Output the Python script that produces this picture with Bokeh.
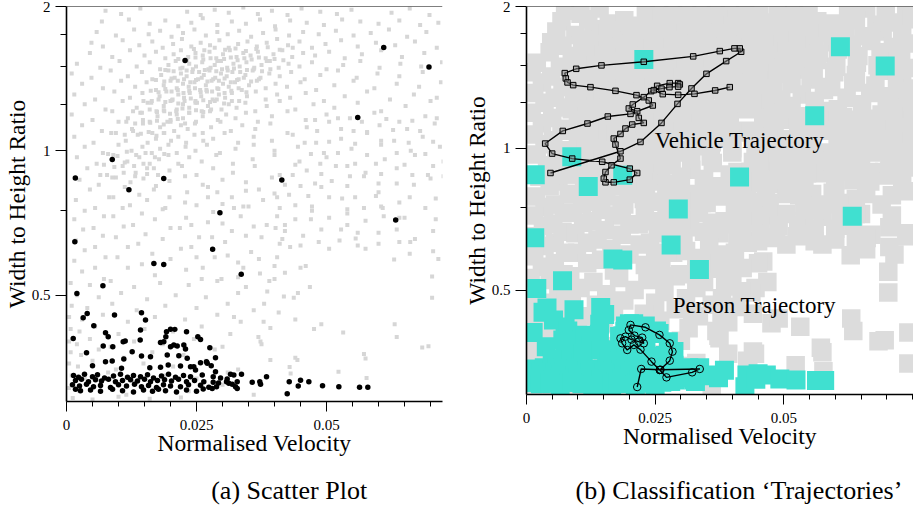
from bokeh.plotting import figure
from bokeh.models import FixedTicker, CustomJSTickFormatter, Span, Label, Range1d
from bokeh.layouts import row, column
from bokeh.embed import file_html
from bokeh.resources import INLINE

FONT = "Liberation Serif"

# ---------------- data (normalised velocity, width/height ratio) ----------------
# vehicle samples (grey)
veh_upper = [
    (0.0075,1.96),(0.0105,1.93),(0.0142,1.98),(0.0232,1.95),(0.0258,1.92),(0.0285,1.97),(0.0312,1.94),(0.0340,1.99),(0.0368,1.93),(0.0395,1.96),(0.0425,1.92),(0.0452,1.98),(0.0488,1.95),(0.0520,1.93),(0.0548,1.97),(0.0625,1.94),(0.0660,1.98),(0.0698,1.92),(0.0738,1.96),
    (0.0068,1.86),(0.0120,1.88),(0.0160,1.84),(0.0190,1.87),(0.0215,1.82),(0.0240,1.85),(0.0262,1.89),(0.0290,1.83),(0.0318,1.86),(0.0345,1.84),(0.0372,1.88),(0.0401,1.82),(0.0430,1.87),(0.0462,1.85),(0.0495,1.83),(0.0530,1.88),(0.0565,1.86),(0.0600,1.84),(0.0640,1.87),(0.0680,1.83),(0.0715,1.85),(0.0748,1.88),
    (0.0058,1.77),(0.0095,1.74),(0.0130,1.79),(0.0158,1.75),(0.0180,1.78),(0.0202,1.73),(0.0224,1.76),(0.0246,1.79),(0.0268,1.74),(0.0290,1.77),(0.0310,1.75),(0.0332,1.78),(0.0355,1.73),(0.0378,1.76),(0.0402,1.79),(0.0428,1.74),(0.0455,1.77),(0.0485,1.75),(0.0518,1.78),(0.0552,1.74),(0.0585,1.76),(0.0620,1.79),(0.0655,1.73),(0.0692,1.77),(0.0730,1.75),
    (0.0048,1.68),(0.0070,1.65),(0.0108,1.70),(0.0140,1.66),(0.0165,1.69),(0.0185,1.64),(0.0205,1.67),(0.0222,1.71),(0.0240,1.65),(0.0258,1.68),(0.0276,1.66),(0.0294,1.70),(0.0312,1.64),(0.0330,1.67),(0.0348,1.69),(0.0366,1.65),(0.0385,1.68),(0.0405,1.71),(0.0426,1.66),(0.0448,1.69),(0.0472,1.64),(0.0498,1.67),(0.0528,1.70),(0.0560,1.65),(0.0595,1.68),(0.0632,1.66),(0.0670,1.69),(0.0712,1.64),(0.0745,1.67),
    (0.0045,1.60),(0.0088,1.57),(0.0122,1.62),(0.0150,1.58),(0.0172,1.61),(0.0190,1.56),(0.0206,1.59),(0.0220,1.62),(0.0234,1.57),(0.0248,1.60),(0.0262,1.58),(0.0275,1.61),(0.0288,1.56),(0.0301,1.59),(0.0314,1.62),(0.0327,1.57),(0.0340,1.60),(0.0354,1.58),(0.0368,1.61),(0.0383,1.56),(0.0398,1.59),(0.0415,1.62),(0.0434,1.57),(0.0455,1.60),(0.0478,1.58),(0.0505,1.61),(0.0535,1.56),(0.0568,1.59),(0.0605,1.62),(0.0645,1.57),(0.0688,1.60),(0.0728,1.58),
    (0.0245,1.63),(0.0265,1.62),(0.0285,1.64),(0.0305,1.625),(0.0325,1.635),(0.0345,1.615),(0.0365,1.63),(0.0387,1.645),(0.0410,1.625),(0.0435,1.64),
]
veh_core = [
    (0.0020,1.52),(0.0065,1.49),(0.0102,1.54),(0.0135,1.50),(0.0160,1.53),(0.0180,1.48),(0.0196,1.51),(0.0210,1.54),(0.0223,1.49),(0.0236,1.52),(0.0249,1.50),(0.0261,1.53),(0.0273,1.48),(0.0285,1.51),(0.0297,1.54),(0.0309,1.49),(0.0321,1.52),(0.0333,1.50),(0.0346,1.53),(0.0360,1.48),(0.0375,1.51),(0.0391,1.54),(0.0408,1.49),(0.0427,1.52),(0.0448,1.50),(0.0472,1.53),(0.0500,1.48),(0.0532,1.51),(0.0565,1.54),(0.0602,1.49),(0.0642,1.52),(0.0682,1.50),(0.0722,1.53),(0.0752,1.48),
    (0.0010,1.45),(0.0048,1.42),(0.0085,1.47),(0.0118,1.43),(0.0145,1.46),(0.0165,1.41),(0.0182,1.44),(0.0196,1.47),(0.0208,1.42),(0.0220,1.45),(0.0231,1.43),(0.0242,1.46),(0.0253,1.41),(0.0264,1.44),(0.0275,1.47),(0.0286,1.42),(0.0297,1.45),(0.0308,1.43),(0.0319,1.46),(0.0331,1.41),(0.0344,1.44),(0.0358,1.47),(0.0373,1.42),(0.0390,1.45),(0.0410,1.43),(0.0432,1.46),(0.0458,1.41),(0.0488,1.44),(0.0522,1.47),(0.0558,1.42),(0.0598,1.45),(0.0640,1.43),(0.0685,1.46),(0.0730,1.41),
    (0.0030,1.38),(0.0070,1.35),(0.0105,1.40),(0.0132,1.36),(0.0154,1.39),(0.0172,1.34),(0.0187,1.37),(0.0200,1.40),(0.0212,1.35),(0.0224,1.38),(0.0235,1.36),(0.0246,1.39),(0.0257,1.34),(0.0268,1.37),(0.0279,1.40),(0.0290,1.35),(0.0301,1.38),(0.0312,1.36),(0.0324,1.39),(0.0337,1.34),(0.0351,1.37),(0.0366,1.40),(0.0383,1.35),(0.0402,1.38),(0.0424,1.36),(0.0450,1.39),(0.0480,1.34),(0.0515,1.37),(0.0552,1.40),(0.0592,1.35),(0.0635,1.38),(0.0678,1.36),(0.0720,1.39),(0.0750,1.34),
    (0.0015,1.31),(0.0055,1.28),(0.0092,1.33),(0.0122,1.29),(0.0146,1.32),(0.0164,1.27),(0.0179,1.30),(0.0192,1.33),(0.0204,1.28),(0.0215,1.31),(0.0226,1.29),(0.0237,1.32),(0.0248,1.27),(0.0259,1.30),(0.0270,1.33),(0.0281,1.28),(0.0293,1.31),(0.0305,1.29),(0.0318,1.32),(0.0332,1.27),(0.0347,1.30),(0.0364,1.33),(0.0383,1.28),(0.0405,1.31),(0.0430,1.29),(0.0460,1.32),(0.0495,1.27),(0.0535,1.30),(0.0578,1.33),(0.0622,1.28),(0.0668,1.31),(0.0712,1.29),(0.0745,1.32),
    (0.0035,1.25),(0.0075,1.22),(0.0108,1.27),(0.0135,1.23),(0.0156,1.26),(0.0173,1.21),(0.0187,1.24),(0.0200,1.27),(0.0212,1.22),(0.0224,1.25),(0.0236,1.23),(0.0248,1.26),(0.0260,1.21),(0.0272,1.24),(0.0285,1.27),(0.0298,1.22),(0.0312,1.25),(0.0327,1.23),(0.0344,1.26),(0.0363,1.21),(0.0385,1.24),(0.0410,1.27),(0.0440,1.22),(0.0475,1.25),(0.0515,1.23),(0.0560,1.26),(0.0605,1.21),(0.0652,1.24),(0.0700,1.27),(0.0740,1.22),
    (0.0010,1.19),(0.0050,1.16),(0.0088,1.21),(0.0118,1.17),(0.0142,1.20),(0.0160,1.15),(0.0175,1.18),(0.0188,1.21),(0.0200,1.16),(0.0212,1.19),(0.0224,1.17),(0.0236,1.20),(0.0249,1.15),(0.0262,1.18),(0.0276,1.21),(0.0291,1.16),(0.0307,1.19),(0.0325,1.17),(0.0345,1.20),(0.0368,1.15),(0.0395,1.18),(0.0425,1.21),(0.0460,1.16),(0.0500,1.19),(0.0545,1.17),(0.0592,1.20),(0.0640,1.15),(0.0690,1.18),(0.0735,1.21),
    (0.0215,1.555),(0.0232,1.545),(0.0248,1.565),(0.0263,1.55),(0.0277,1.56),(0.0290,1.54),(0.0303,1.555),(0.0316,1.565),(0.0329,1.545),(0.0342,1.56),(0.0356,1.55),(0.0370,1.565),(0.0385,1.54),(0.0400,1.555),(0.0417,1.545),
    (0.0190,1.475),(0.0206,1.465),(0.0219,1.485),(0.0231,1.47),(0.0243,1.48),(0.0255,1.46),(0.0266,1.475),(0.0277,1.49),(0.0288,1.465),(0.0299,1.48),(0.0310,1.47),(0.0322,1.485),(0.0334,1.46),(0.0347,1.475),(0.0361,1.49),(0.0376,1.465),(0.0392,1.48),
    (0.0172,1.405),(0.0188,1.395),(0.0202,1.415),(0.0214,1.40),(0.0226,1.41),(0.0238,1.39),(0.0249,1.405),(0.0260,1.42),(0.0271,1.395),(0.0282,1.41),(0.0293,1.40),(0.0304,1.415),(0.0316,1.39),(0.0328,1.405),(0.0341,1.42),(0.0355,1.395),(0.0370,1.41),
    (0.0162,1.335),(0.0177,1.325),(0.0190,1.345),(0.0202,1.33),(0.0214,1.34),(0.0225,1.32),(0.0236,1.335),(0.0247,1.35),(0.0258,1.325),(0.0269,1.34),(0.0280,1.33),(0.0292,1.345),(0.0304,1.32),(0.0317,1.335),(0.0331,1.35),(0.0346,1.325),
    (0.0148,1.27),(0.0163,1.26),(0.0177,1.28),(0.0190,1.265),(0.0203,1.275),(0.0215,1.255),(0.0227,1.27),(0.0239,1.285),(0.0251,1.26),(0.0263,1.275),(0.0276,1.265),(0.0289,1.28),(0.0303,1.255),(0.0318,1.27),
    (0.0128,1.21),(0.0145,1.20),(0.0160,1.22),(0.0174,1.205),(0.0187,1.215),(0.0199,1.195),(0.0211,1.21),(0.0223,1.225),(0.0236,1.20),(0.0249,1.215),(0.0263,1.205),(0.0278,1.22),
]
veh_lower = [
    (0.0030,1.13),(0.0068,1.10),(0.0100,1.15),(0.0126,1.11),(0.0147,1.14),(0.0165,1.09),(0.0180,1.12),(0.0194,1.15),(0.0207,1.10),(0.0220,1.13),(0.0233,1.11),(0.0247,1.14),(0.0262,1.09),(0.0278,1.12),(0.0296,1.15),(0.0316,1.10),(0.0338,1.13),(0.0363,1.11),(0.0392,1.14),(0.0425,1.09),(0.0462,1.12),(0.0505,1.15),(0.0552,1.10),(0.0602,1.13),(0.0655,1.11),(0.0708,1.14),(0.0748,1.09),
    (0.0015,1.07),(0.0052,1.04),(0.0086,1.09),(0.0114,1.05),(0.0137,1.08),(0.0156,1.04),(0.0172,1.06),(0.0187,1.09),(0.0201,1.05),(0.0215,1.07),(0.0230,1.04),(0.0246,1.08),(0.0263,1.05),(0.0282,1.06),(0.0304,1.09),(0.0330,1.04),(0.0360,1.07),(0.0395,1.05),(0.0435,1.08),(0.0480,1.04),(0.0528,1.06),(0.0578,1.09),(0.0630,1.05),(0.0685,1.07),(0.0730,1.04),
    (0.0035,1.02),(0.0070,0.99),(0.0100,1.03),(0.0125,1.00),(0.0146,1.02),(0.0164,0.99),(0.0180,1.01),(0.0196,1.03),(0.0212,0.99),(0.0229,1.02),(0.0248,1.00),(0.0270,1.03),(0.0295,0.99),(0.0325,1.01),(0.0360,1.03),(0.0400,1.00),(0.0445,1.02),(0.0495,0.99),(0.0548,1.01),(0.0605,1.03),(0.0662,1.00),(0.0718,1.02),
    (0.0020,0.97),(0.0058,0.94),(0.0090,0.98),(0.0117,0.95),(0.0140,0.97),(0.0160,0.94),(0.0178,0.96),(0.0196,0.98),(0.0215,0.94),(0.0236,0.97),(0.0260,0.95),(0.0288,0.98),(0.0320,0.94),(0.0358,0.96),(0.0400,0.98),(0.0448,0.95),(0.0500,0.97),(0.0555,0.94),(0.0612,0.96),(0.0670,0.98),(0.0725,0.95),
    (0.0040,0.92),(0.0078,0.89),(0.0108,0.93),(0.0133,0.90),(0.0155,0.92),(0.0176,0.89),(0.0198,0.91),(0.0222,0.93),(0.0250,0.89),(0.0282,0.92),(0.0320,0.90),(0.0362,0.93),(0.0410,0.89),(0.0462,0.91),(0.0518,0.93),(0.0575,0.90),(0.0635,0.92),(0.0695,0.89),(0.0745,0.91),
    (0.0025,0.87),(0.0062,0.85),(0.0095,0.88),(0.0123,0.86),(0.0148,0.875),(0.0172,0.845),(0.0198,0.865),(0.0228,0.885),(0.0262,0.85),(0.0300,0.87),(0.0345,0.86),(0.0395,0.88),(0.0450,0.845),(0.0510,0.865),(0.0572,0.885),(0.0635,0.855),(0.0700,0.875),
    (0.0045,0.83),(0.0082,0.80),(0.0112,0.84),(0.0140,0.81),(0.0168,0.83),(0.0198,0.80),(0.0232,0.82),(0.0272,0.84),(0.0318,0.80),(0.0370,0.83),(0.0428,0.81),(0.0490,0.84),(0.0555,0.80),(0.0600,0.82),(0.0740,0.81),
    (0.0018,0.79),(0.0055,0.76),(0.0090,0.80),(0.0122,0.77),(0.0155,0.79),(0.0190,0.76),(0.0228,0.78),(0.0272,0.80),(0.0322,0.76),(0.0378,0.79),(0.0440,0.77),(0.0505,0.80),(0.0572,0.76),(0.0640,0.78),
    (0.0035,0.75),(0.0072,0.73),(0.0108,0.76),(0.0145,0.74),(0.0185,0.755),(0.0230,0.725),(0.0282,0.745),(0.0340,0.765),(0.0405,0.73),(0.0472,0.75),(0.0540,0.74),(0.0608,0.76),(0.0650,0.725),
    (0.0015,0.72),(0.0052,0.69),(0.0090,0.73),(0.0128,0.70),(0.0170,0.72),(0.0218,0.69),(0.0272,0.71),(0.0335,0.73),(0.0402,0.69),(0.0470,0.72),(0.0540,0.70),(0.0610,0.73),(0.0670,0.655),
    (0.0032,0.685),(0.0070,0.665),(0.0110,0.695),(0.0152,0.67),(0.0200,0.69),(0.0255,0.66),(0.0318,0.68),(0.0385,0.70),(0.0455,0.665),(0.0528,0.685),(0.0600,0.675),(0.0740,0.66),
    (0.0018,0.65),(0.0055,0.63),(0.0095,0.66),(0.0138,0.64),(0.0185,0.655),(0.0240,0.63),(0.0305,0.645),(0.0375,0.66),(0.0450,0.635),(0.0525,0.65),(0.0600,0.64),
    (0.0035,0.62),(0.0075,0.60),(0.0118,0.63),(0.0165,0.61),(0.0220,0.625),(0.0285,0.60),(0.0355,0.615),(0.0430,0.63),(0.0505,0.625),(0.0575,0.625),(0.0660,0.61),
    (0.0015,0.59),(0.0055,0.57),(0.0098,0.60),(0.0145,0.58),(0.0200,0.595),(0.0262,0.57),(0.0330,0.585),(0.0405,0.60),(0.0460,0.575),(0.0715,0.595),
    (0.0030,0.56),(0.0072,0.54),(0.0118,0.57),(0.0170,0.55),(0.0230,0.565),(0.0298,0.54),(0.0372,0.555),(0.0450,0.57),
    (0.0115,1.15),(0.0132,1.14),(0.0147,1.16),(0.0161,1.145),(0.0174,1.155),(0.0187,1.135),(0.0200,1.15),(0.0214,1.165),(0.0228,1.14),
    (0.0095,1.09),(0.0112,1.08),(0.0128,1.10),(0.0143,1.085),(0.0158,1.095),(0.0173,1.075),(0.0188,1.09),
    (0.0080,0.985),(0.0098,0.975),(0.0116,0.995),(0.0134,0.98),(0.0152,0.99),(0.0170,0.97),(0.0188,0.985),
    (0.0072,0.935),(0.0092,0.925),(0.0112,0.945),(0.0130,0.93),(0.0148,0.94),(0.0168,0.92),
    (0.0065,0.89),(0.0088,0.88),(0.0110,0.90),(0.0132,0.885),(0.0155,0.895),
]
veh_right_fill = [
    (0.0478,1.16),(0.0522,1.17),(0.0568,1.15),(0.0615,1.165),(0.0665,1.155),(0.0712,1.17),(0.0750,1.15),
    (0.0482,1.10),(0.0528,1.11),(0.0578,1.095),(0.0628,1.105),(0.0680,1.10),(0.0728,1.11),
    (0.0458,1.04),(0.0505,1.045),(0.0555,1.035),(0.0605,1.05),(0.0658,1.04),(0.0705,1.045),(0.0748,1.035),
    (0.0470,0.985),(0.0522,0.99),(0.0578,0.98),(0.0635,0.99),(0.0690,0.985),(0.0745,0.98),
    (0.0440,0.935),(0.0488,0.94),(0.0540,0.93),(0.0595,0.94),(0.0650,0.935),(0.0705,0.93),
    (0.0435,0.89),(0.0490,0.895),(0.0545,0.885),(0.0605,0.895),(0.0665,0.89),(0.0725,0.885),
    (0.0420,0.85),(0.0478,0.855),(0.0540,0.845),(0.0600,0.855),(0.0668,0.85),(0.0730,0.845),
    (0.0405,0.80),(0.0465,0.805),(0.0530,0.795),(0.0595,0.805),(0.0660,0.80),(0.0710,0.795),
    (0.0410,0.76),(0.0472,0.765),(0.0540,0.755),(0.0605,0.765),(0.0690,0.76),
    (0.0440,0.72),(0.0505,0.725),(0.0575,0.715),(0.0640,0.725),(0.0710,0.72),
    (0.0420,0.68),(0.0490,0.685),(0.0560,0.675),(0.0635,0.685),(0.0705,0.68),
    (0.0410,0.64),(0.0485,0.645),(0.0560,0.635),(0.0640,0.645),
    (0.0290,0.82),(0.0345,0.825),(0.0400,0.815),
    (0.0250,0.77),(0.0300,0.775),(0.0350,0.765),
    (0.0240,0.70),(0.0300,0.705),(0.0360,0.695),(0.0420,0.70),
    (0.0280,0.66),(0.0345,0.665),(0.0415,0.655),
    (0.0250,0.60),(0.0310,0.605),(0.0370,0.595),
    (0.0340,0.57),(0.0400,0.575),
    (0.0260,0.54),(0.0330,0.545),(0.0390,0.535),
]
veh_bottom_left = [
    (0.0008,0.53),(0.0045,0.525),(0.0085,0.535),(0.0130,0.52),(0.0180,0.53),(0.0235,0.525),(0.0290,0.535),(0.0345,0.52),
    (0.0020,0.50),(0.0062,0.495),(0.0105,0.505),(0.0155,0.49),(0.0210,0.50),(0.0268,0.495),(0.0330,0.505),
    (0.0010,0.475),(0.0040,0.47),(0.0088,0.48),(0.0135,0.465),(0.0190,0.475),(0.0250,0.47),(0.0310,0.48),(0.0360,0.465),
    (0.0005,0.45),(0.0030,0.445),(0.0070,0.455),(0.0118,0.44),(0.0170,0.45),(0.0228,0.445),(0.0290,0.455),(0.0335,0.44),
    (0.0008,0.425),(0.0025,0.42),(0.0055,0.43),(0.0100,0.415),(0.0150,0.425),(0.0205,0.42),(0.0260,0.43),(0.0315,0.415),
    (0.0005,0.40),(0.0020,0.395),(0.0045,0.405),(0.0085,0.39),(0.0130,0.40),(0.0185,0.395),(0.0245,0.405),(0.0300,0.39),
    (0.0008,0.38),(0.0028,0.375),(0.0062,0.385),(0.0110,0.37),(0.0165,0.38),(0.0225,0.375),(0.0285,0.385),
    (0.0005,0.36),(0.0022,0.355),(0.0050,0.365),(0.0095,0.35),(0.0148,0.36),(0.0205,0.355),(0.0268,0.365),(0.0330,0.35),
    (0.0010,0.34),(0.0035,0.335),(0.0080,0.345),(0.0130,0.33),(0.0190,0.34),(0.0250,0.335),(0.0310,0.345),
    (0.0005,0.32),(0.0025,0.315),(0.0065,0.325),(0.0115,0.31),(0.0175,0.32),(0.0235,0.315),(0.0300,0.325),(0.0360,0.31),
    (0.0012,0.305),(0.0050,0.303),(0.0100,0.307),(0.0160,0.304),(0.0220,0.306),
]
veh_bottom_right = [
    (0.0630,0.593),(0.0703,0.547),(0.0703,0.494),(0.0742,0.406),(0.0742,0.349),(0.0696,0.391),(0.0684,0.389),(0.0631,0.435),(0.0635,0.409),(0.0575,0.369),(0.0577,0.336),(0.0523,0.346),(0.0532,0.418),(0.0476,0.425),(0.0369,0.409),(0.0429,0.354),(0.0420,0.557),(0.0468,0.520),(0.0705,0.617),(0.0738,0.650),(0.0661,0.645),(0.0556,0.656),(0.0400,0.540),(0.0445,0.505),(0.0440,0.445),(0.0490,0.435),(0.0375,0.395),(0.0440,0.370),(0.0380,0.480),(0.0408,0.460),
    (0.0322,0.450),(0.0379,0.440),(0.0392,0.427),(0.0373,0.400),(0.0392,0.366),(0.0431,0.343),(0.0444,0.366),(0.0572,0.377),(0.0437,0.494),(0.0418,0.497),(0.0386,0.509),
]

# person samples (black / turquoise)
per_upper = [
    (0.0228,1.544),(0.0610,1.643),(0.0697,1.495),(0.0560,1.173),(0.0088,0.959),(0.0017,0.878),(0.0187,0.876),(0.0414,0.869),(0.0120,0.829),(0.0295,0.743),(0.0633,0.717),(0.0016,0.646),(0.0281,0.623),(0.0168,0.582),(0.0187,0.579),(0.0336,0.553),(0.0070,0.523),(0.0020,0.504),
]
per_mid = [
    (0.00321,0.4484),(0.00398,0.4580),(0.00525,0.4316),(0.00923,0.4543),(0.01442,0.4593),(0.01519,0.4435),(0.00129,0.4062),(0.00750,0.4173),(0.00802,0.4094),(0.00706,0.3915),(0.00890,0.3902),(0.01090,0.3997),(0.01129,0.4010),(0.01423,0.4227),(0.01417,0.4029),(0.01263,0.3810),(0.00385,0.3791),(0.00750,0.3631),(0.00879,0.3643),(0.01058,0.3518),(0.01102,0.3678),(0.01442,0.3732),(0.01615,0.3719),(0.01602,0.3528),(0.01808,0.3985),(0.01871,0.3997),(0.01910,0.4094),(0.02000,0.4242),(0.02083,0.4242),(0.02000,0.3902),(0.02063,0.3934),(0.02129,0.3915),(0.02308,0.4193),(0.02256,0.3934),(0.02288,0.3859),(0.01937,0.3750),(0.01956,0.3574),(0.02160,0.3737),(0.02321,0.3691),(0.01808,0.3535),(0.02192,0.3557),(0.02525,0.4094),(0.02577,0.4043),(0.02756,0.3883),(0.02577,0.3614),(0.02706,0.3603),(0.02448,0.3545),(0.00500,0.3562),(0.02865,0.3701),(0.02385,0.3545),(0.02481,0.3489),(0.02692,0.3631),(0.02783,0.3562),(0.02865,0.3461),(0.01923,0.4193),
]
per_band = [
    (0.00135,0.340),(0.00231,0.337),(0.00346,0.342),(0.00500,0.338),(0.00596,0.341),(0.00731,0.336),(0.00904,0.339),(0.01038,0.342),(0.01173,0.337),(0.01288,0.340),(0.01423,0.338),(0.01558,0.341),(0.01673,0.336),(0.01827,0.339),(0.01962,0.342),(0.02096,0.337),(0.02250,0.340),(0.02385,0.338),(0.02610,0.3407),(0.02821,0.3379),
    (0.00173,0.332),(0.00288,0.334),(0.00423,0.330),(0.00558,0.333),(0.00673,0.331),(0.00808,0.334),(0.00942,0.330),(0.01077,0.332),(0.01231,0.333),(0.01365,0.331),(0.01500,0.334),(0.01615,0.330),(0.01750,0.332),(0.01885,0.333),(0.02019,0.331),(0.02154,0.334),(0.02308,0.330),(0.02462,0.332),(0.02640,0.3299),(0.02821,0.3289),
    (0.00115,0.325),(0.00250,0.323),(0.00385,0.326),(0.00519,0.322),(0.00654,0.324),(0.00846,0.321),(0.01000,0.325),(0.01154,0.323),(0.01308,0.326),(0.01442,0.322),(0.01577,0.324),(0.01731,0.321),(0.01865,0.325),(0.02000,0.323),(0.02192,0.322),(0.02346,0.325),(0.02577,0.3243),(0.02737,0.3211),(0.02885,0.3220),
    (0.00173,0.318),(0.00269,0.316),(0.00462,0.317),(0.00654,0.315),(0.00885,0.318),(0.01077,0.316),(0.01288,0.314),(0.01481,0.317),(0.01654,0.315),(0.01769,0.318),(0.01904,0.316),(0.02115,0.314),(0.02308,0.317),(0.02500,0.315),(0.02629,0.3185),(0.02802,0.3195),
]
per_band_right = [
    (0.03154,0.3418),(0.03217,0.3407),(0.03090,0.3342),(0.03121,0.3273),(0.03187,0.3258),(0.03077,0.3299),(0.03283,0.3299),(0.03365,0.3418),(0.03250,0.3220),(0.03283,0.3195),(0.03571,0.3289),(0.03717,0.3299),(0.03731,0.3258),(0.03846,0.3379),(0.04244,0.3114),(0.04283,0.3299),(0.04456,0.3231),(0.04500,0.3321),(0.04660,0.3299),(0.04923,0.3236),(0.05237,0.3220),(0.05635,0.3211),(0.05794,0.3211),(0.02962,0.3358),(0.02923,0.3278),
]

# example trajectories
veh_traj_x = [0.00466,0.01826,0.02215,0.02623,0.02934,0.03206,0.03497,0.03880,0.04171,0.04144,0.04041,0.03756,0.03239,0.02279,0.01457,0.00966,0.00744,0.00764,0.00797,0.00907,0.01243,0.01729,0.02137,0.02376,0.02454,0.02021,0.01580,0.01185,0.00705,0.00363,0.00499,0.00888,0.01471,0.02007,0.02151,0.02007,0.01696,0.01535,0.01502,0.01535,0.01652,0.01826,0.01729,0.01696,0.01826,0.01923,0.02054,0.02279,0.02182,0.02151,0.01988,0.02065,0.02279,0.02423,0.02539,0.02784,0.02947,0.02979,0.02947,0.02778,0.02623,0.02473,0.02648,0.02947,0.03264,0.03666,0.03950]
veh_traj_y = [0.8861,0.9854,1.0313,1.1319,1.2423,1.3397,1.4390,1.5314,1.6028,1.6297,1.6297,1.6083,1.5671,1.5262,1.4995,1.4747,1.4440,1.4070,1.3797,1.3616,1.3483,1.3241,1.2965,1.2633,1.2326,1.1830,1.1680,1.1286,1.0884,1.0233,0.9744,0.9508,0.9360,0.9053,0.8861,0.8578,0.8466,0.8466,0.8621,0.8904,0.9201,0.9508,1.0183,1.0486,1.0725,1.1013,1.1231,1.1319,1.1600,1.1987,1.2147,1.2387,1.2838,1.3221,1.3569,1.3750,1.3750,1.3662,1.3516,1.3483,1.3384,1.3286,1.3028,1.2984,1.3048,1.3267,1.3483]
per_traj_x = [0.02151,0.02229,0.02604,0.03367,0.03219,0.02720,0.02590,0.02429,0.02215,0.02085,0.01957,0.01859,0.01826,0.01923,0.02040,0.02182,0.02279,0.02248,0.02098,0.01988,0.02021,0.02312,0.02584,0.02784,0.02837,0.02784,0.02590]
per_traj_y = [0.3112,0.3399,0.3387,0.3399,0.3343,0.3262,0.3382,0.3523,0.3736,0.3823,0.3730,0.3853,0.3948,0.3981,0.3923,0.3885,0.3853,0.3962,0.4001,0.4114,0.4216,0.4167,0.4015,0.3853,0.3699,0.3540,0.3382]

x_major = [0, 0.025, 0.05]
x_minor = [0.005, 0.01, 0.015, 0.02, 0.03, 0.035, 0.04, 0.045, 0.055, 0.06, 0.065, 0.07, 0.075]
y_major = [0.5, 1, 2]
y_minor = [0.75, 1.25, 1.5, 1.75]

veh = veh_upper + veh_core + veh_lower + veh_right_fill + veh_bottom_left + veh_bottom_right
per = per_upper + per_mid + per_band + per_band_right
veh_x = [p[0] for p in veh]
veh_y = [p[1] for p in veh]
per_x = [p[0] for p in per]
per_y = [p[1] for p in per]

TURQ = "#40e0d0"
MAIN_H = 475
CAP_H = 34


def make_fig(width, x_end, mb_left, mb_right, mb_bottom, label_standoff):
    p = figure(width=width, height=MAIN_H, x_range=Range1d(0, x_end), y_range=Range1d(0.3, 2.0),
               y_axis_type="log", output_backend="svg", toolbar_location=None,
               min_border_left=mb_left, min_border_right=mb_right, min_border_top=6,
               min_border_bottom=mb_bottom)
    try:
        p.frame_align = False
    except Exception:
        pass
    p.outline_line_color = None
    p.xgrid.grid_line_color = None
    p.ygrid.grid_line_color = None
    p.background_fill_color = "white"
    p.border_fill_color = "white"
    fmt = "return tick.toString();"
    p.xaxis.ticker = FixedTicker(ticks=x_major, minor_ticks=x_minor)
    p.yaxis.ticker = FixedTicker(ticks=y_major, minor_ticks=y_minor)
    p.xaxis.formatter = CustomJSTickFormatter(code=fmt)
    p.yaxis.formatter = CustomJSTickFormatter(code=fmt)
    for ax in (p.xaxis, p.yaxis):
        ax.axis_line_width = 1.6
        ax.axis_line_color = "black"
        ax.major_tick_line_color = "black"
        ax.minor_tick_line_color = "black"
        ax.major_tick_line_width = 1
        ax.minor_tick_line_width = 1
        ax.major_tick_in = 0
        ax.minor_tick_in = 0
        ax.major_label_text_font = FONT
        ax.major_label_text_font_size = "15px"
        ax.major_label_text_color = "black"
        ax.axis_label_text_font = FONT
        ax.axis_label_text_font_size = "23.5px"
        ax.axis_label_text_font_style = "normal"
        ax.axis_label_text_color = "black"
    p.xaxis.major_tick_out = 10
    p.xaxis.minor_tick_out = 5
    p.xaxis.major_label_standoff = 8
    p.xaxis.axis_label_standoff = -3
    p.yaxis.major_tick_out = 11
    p.yaxis.minor_tick_out = 6
    p.yaxis.major_label_standoff = 5
    p.yaxis.axis_label_standoff = label_standoff
    p.xaxis.axis_label = "Normalised Velocity"
    p.yaxis.axis_label = "Width to Height Ratio"
    p.add_layout(Span(location=2.0, dimension="width", line_color="black", line_width=1.2))
    return p


def make_caption(width, x_text, text):
    c = figure(width=width, height=CAP_H, x_range=Range1d(0, width), y_range=Range1d(0, CAP_H),
               x_axis_location=None, y_axis_location=None, output_backend="svg",
               toolbar_location=None, min_border=0)
    c.outline_line_color = None
    c.xgrid.grid_line_color = None
    c.ygrid.grid_line_color = None
    c.add_layout(Label(x=x_text, y=19.5, text=text, text_font=FONT, text_font_size="26px",
                       text_baseline="middle", text_color="black"))
    return c


# (a) scatter plot
p1 = make_fig(460, 0.0723, 66, 18, 74, -1)
p1.scatter(veh_x, veh_y, marker="square", size=4, fill_color="#d6d6d6", line_color=None)
p1.scatter(per_x, per_y, marker="circle", size=5.5, fill_color="black", line_color=None)

# (b) classification trajectories
p2 = make_fig(453, 0.0752, 66, 0, 81, -1)
p2.scatter(veh_x, veh_y, marker="square", size=18.5, fill_color="#dcdcdc", line_color=None)
p2.scatter(per_x, per_y, marker="square", size=19, fill_color=TURQ, line_color=None)
p2.line(veh_traj_x, veh_traj_y, line_color="black", line_width=1.4)
p2.scatter(veh_traj_x, veh_traj_y, marker="square", size=5.5, fill_color="#8c8c8c", fill_alpha=0.55,
           line_color="black", line_width=1)
p2.line(per_traj_x, per_traj_y, line_color="black", line_width=1.4)
p2.scatter(per_traj_x, per_traj_y, marker="circle", size=7.5, fill_color=None, line_color="black", line_width=1)
p2.add_layout(Label(x=0.0249, y=1.039, text="Vehicle Trajectory", text_font=FONT, text_font_size="23px",
                    text_baseline="middle", text_color="black"))
p2.add_layout(Label(x=0.0284, y=0.4638, text="Person Trajectory", text_font=FONT, text_font_size="23px",
                    text_baseline="middle", text_color="black"))

cap1 = make_caption(460, 210.7, "(a) Scatter Plot")
cap2 = make_caption(453, 115, "(b) Classification \u2018Trajectories\u2019")

layout = column(row(p1, p2), row(cap1, cap2))
open("out.html", "w").write(file_html(layout, INLINE))
